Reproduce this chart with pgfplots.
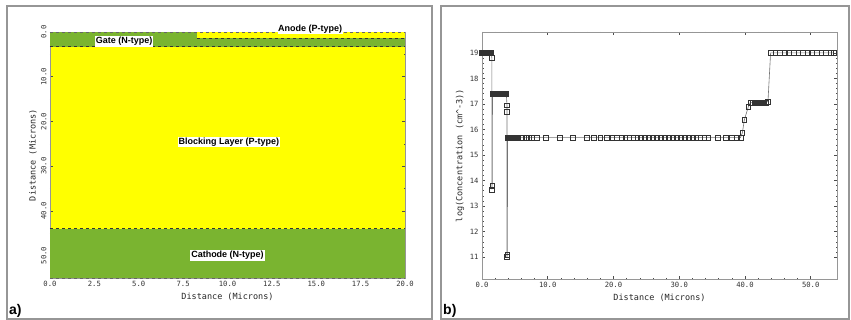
\documentclass[border=0pt]{standalone}
\usepackage{pgfplots}
\pgfplotsset{compat=1.18}
\usepackage{fontspec}
\setmainfont{Liberation Sans}
\setsansfont{Liberation Sans}
\setmonofont{DejaVu Sans Mono}
\definecolor{dgreen}{RGB}{122,180,48}
\definecolor{pyellow}{RGB}{255,255,0}
\definecolor{framegray}{RGB}{150,150,150}
\begin{document}
\begin{tikzpicture}[x=1pt,y=1pt]
\path[use as bounding box] (0,0) rectangle (851,-320);
\draw[framegray, line width=1.2pt] (7,-6) rectangle (432,-319);
\draw[framegray, line width=1.2pt] (441,-6) rectangle (849,-319);
\node[anchor=base west, inner sep=0pt, font=\sffamily\bfseries\fontsize{14}{14}\selectfont] at (9,-314) {a)};
\node[anchor=base west, inner sep=0pt, font=\sffamily\bfseries\fontsize{14}{14}\selectfont] at (443,-314) {b)};

% ---------------- panel a ----------------
\begin{axis}[
  at={(50pt,-32pt)}, anchor=north west,
  scale only axis, width=355pt, height=246pt,
  xmin=0, xmax=20, ymin=0, ymax=55, y dir=reverse,
  axis background/.style={fill=pyellow},
  axis line style={framegray, line width=0.8pt},
  clip=false,
  tick align=inside,
  major tick length=3pt, minor tick length=1.5pt,
  tick style={black!70, line width=0.5pt},
  xtick={0,2.5,5,7.5,10,12.5,15,17.5,20},
  xticklabels={0.0,2.5,5.0,7.5,10.0,12.5,15.0,17.5,20.0},
  ytick={0,10,20,30,40,50},
  yticklabels={0.0,10.0,20.0,30.0,40.0,50.0},
  minor x tick num=2, minor y tick num=1,
  yticklabel style={rotate=90, anchor=south},
  tick label style={font=\ttfamily\fontsize{7.2}{7.2}\selectfont, text=black!80},
  xlabel={Distance (Microns)}, ylabel={Distance (Microns)},
  label style={font=\ttfamily\fontsize{8.5}{8.5}\selectfont, text=black!85},
  xlabel style={at={(axis description cs:0.5,0)}, anchor=center, yshift=-19pt},
  ylabel style={at={(axis description cs:0,0.5)}, anchor=center, yshift=17pt},
]
% Gate (N-type) band
\addplot[fill=dgreen, draw=none] coordinates {(0,0) (20,0) (20,3.3) (0,3.3)} -- cycle;
% Anode (P-type) strip
\addplot[fill=pyellow, draw=none] coordinates {(8.3,0) (20,0) (20,1.3) (8.3,1.3)} -- cycle;
% Cathode (N-type)
\addplot[fill=dgreen, draw=none] coordinates {(0,44.0) (20,44.0) (20,55) (0,55)} -- cycle;
% junction boundaries
\addplot[black!80, dashed, line width=0.6pt] coordinates {(0,3.3) (20,3.3)};
\addplot[black!80, dashed, line width=0.6pt] coordinates {(8.3,1.3) (20,1.3)};
\addplot[black!80, dashed, line width=0.6pt] coordinates {(0,44.0) (20,44.0)};
\addplot[black!60, dashed, line width=0.5pt] coordinates {(0,0) (20,0)};
\addplot[black!60, dashed, line width=0.5pt] coordinates {(0,55) (20,55)};
\node[fill=white, inner sep=1pt, font=\sffamily\bfseries\fontsize{9}{9}\selectfont] at (axis cs:4.17,2.1) {Gate (N-type)};
\node[fill=white, inner sep=0.5pt, font=\sffamily\bfseries\fontsize{9}{9}\selectfont] at (axis cs:14.65,-0.7) {Anode (P-type)};
\node[fill=white, inner sep=1pt, font=\sffamily\bfseries\fontsize{9}{9}\selectfont] at (axis cs:10.08,24.6) {Blocking Layer (P-type)};
\node[fill=white, inner sep=1pt, font=\sffamily\bfseries\fontsize{9}{9}\selectfont] at (axis cs:10.0,50.0) {Cathode (N-type)};
\end{axis}

% ---------------- panel b ----------------
\begin{axis}[
  at={(482pt,-32pt)}, anchor=north west,
  scale only axis, width=355pt, height=247pt,
  xmin=0, xmax=54, ymin=10.14, ymax=19.82,
  axis line style={framegray, line width=0.8pt},
  tick align=inside,
  major tick length=3pt, minor tick length=1.5pt,
  tick style={black!70, line width=0.5pt},
  xtick={0,10,20,30,40,50},
  xticklabels={0.0,10.0,20.0,30.0,40.0,50.0},
  ytick={11,12,13,14,15,16,17,18,19},
  yticklabels={11,12,13,14,15,16,17,18,19},
  minor x tick num=4, minor y tick num=4,
  tick label style={font=\ttfamily\fontsize{7.2}{7.2}\selectfont, text=black!80},
  xlabel={Distance (Microns)},
  ylabel={log(Concentration (cm\textasciicircum{}-3))},
  label style={font=\ttfamily\fontsize{8.5}{8.5}\selectfont, text=black!85},
  xlabel style={at={(axis description cs:0.5,0)}, anchor=center, yshift=-19pt},
  ylabel style={at={(axis description cs:0,0.5)}, anchor=center, yshift=22pt},
]
\addplot[black!55, line width=0.6pt, mark=square, mark size=2.4pt,
  mark options={black!80, solid, line width=0.5pt, fill=white}]
coordinates {
(0,19.0) (0.1,19.0) (0.2,19.0) (0.3,19.0) (0.4,19.0) (0.5,19.0) (0.6,19.0) (0.7,19.0)
(0.8,19.0) (0.9,19.0) (1.0,19.0) (1.1,19.0) (1.2,19.0) (1.3,19.0) (1.4,19.0)
(1.5,18.8) (1.5,13.65) (1.55,13.8)
(1.6,17.4) (1.7,17.4) (1.8,17.4) (1.9,17.4) (2.0,17.4) (2.1,17.4) (2.2,17.4) (2.3,17.4)
(2.4,17.4) (2.5,17.4) (2.6,17.4) (2.7,17.4) (2.8,17.4) (2.9,17.4) (3.0,17.4) (3.1,17.4)
(3.2,17.4) (3.3,17.4) (3.4,17.4) (3.5,17.4) (3.6,17.4) (3.7,17.4)
(3.8,16.95) (3.8,16.7) (3.8,11.0) (3.85,11.1)
(3.9,15.68) (4.0,15.68) (4.1,15.68) (4.2,15.68) (4.3,15.68) (4.4,15.68) (4.5,15.68)
(4.6,15.68) (4.7,15.68) (4.8,15.68) (4.9,15.68) (5.0,15.68) (5.1,15.68) (5.2,15.68)
(5.3,15.68) (5.4,15.68) (5.5,15.68)
(6.1,15.68) (6.6,15.68) (7.1,15.68) (7.6,15.68) (8.3,15.68) (9.7,15.68) (11.8,15.68)
(13.8,15.68) (15.9,15.68) (17.0,15.68) (18.0,15.68) (19.0,15.68) (19.8,15.68)
(20.5,15.68) (21.2,15.68) (21.8,15.68) (22.4,15.68) (23.0,15.68) (23.6,15.68)
(24.2,15.68) (24.8,15.68) (25.4,15.68) (26.0,15.68) (26.6,15.68) (27.2,15.68)
(27.8,15.68) (28.4,15.68) (29.0,15.68) (29.6,15.68) (30.2,15.68) (30.8,15.68)
(31.4,15.68) (32.0,15.68) (32.6,15.68) (33.2,15.68) (33.8,15.68) (34.4,15.68)
(35.9,15.68) (37.1,15.68) (38.0,15.68) (38.8,15.68) (39.3,15.68)
(39.6,15.86) (39.9,16.37) (40.5,16.88)
(40.8,17.05) (41.1,17.05) (41.4,17.05) (41.7,17.05) (42.0,17.05) (42.3,17.05)
(42.6,17.05) (42.9,17.05) (43.2,17.05) (43.5,17.1)
(43.9,19.0) (44.6,19.0) (45.3,19.0) (46.0,19.0) (46.7,19.0) (47.4,19.0) (48.1,19.0)
(48.8,19.0) (49.5,19.0) (50.2,19.0) (50.9,19.0) (51.6,19.0) (52.3,19.0) (53.0,19.0)
(53.5,19.0)
};
\end{axis}
\end{tikzpicture}
\end{document}
